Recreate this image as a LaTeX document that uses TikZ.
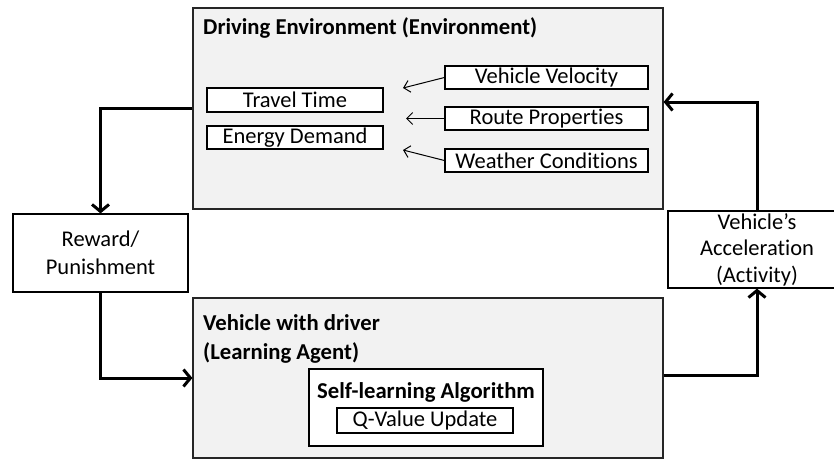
\documentclass[tikz,border=0pt]{standalone}
\usepackage{fontspec}
\setmainfont{Carlito}[Ligatures=NoCommon]
\usetikzlibrary{arrows.meta}
\begin{document}
\begin{tikzpicture}[x=1pt,y=-1pt,
  bigbox/.style={draw=black!85, fill=gray!10, line width=1.2pt, inner sep=0pt},
  smallbox/.style={draw=black, fill=white, line width=1.2pt, inner sep=0pt, font=\fontsize{22.5}{27}\selectfont},
  plainbox/.style={draw=black, fill=white, line width=1.2pt, inner sep=0pt, align=center},
  flow/.style={line width=3pt, -{Straight Barb[length=7pt,width=17pt,line width=3pt]}},
  thinarrow/.style={line width=1pt, -{Straight Barb[length=6pt,width=12pt,line width=1pt]}},
  ttl/.style={font=\bfseries\fontsize{22.7}{29}\selectfont, inner sep=0pt}
]
\useasboundingbox (0,0) rectangle (834,460);

% environment
\node[bigbox, minimum width=470pt, minimum height=201pt] (env) at (428,108.5) {};
\node[ttl, anchor=base west] (envt) at (203,35) {Driving Environment (Environment)};
\node[smallbox, minimum width=176pt, minimum height=24pt] (tt) at (295,100) {Travel Time};
\node[smallbox, minimum width=176pt, minimum height=23pt] (ed) at (295,137.5) {Energy Demand};
\node[smallbox, minimum width=203pt, minimum height=23pt] (vv) at (546.5,77.5) {Vehicle Velocity};
\node[smallbox, minimum width=203pt, minimum height=23pt] (rp) at (546.5,118.5) {Route Properties};
\node[smallbox, minimum width=203pt, minimum height=23pt] (wc) at (546.5,160.5) {Weather Conditions};
\coordinate (e1) at (403,88);
\coordinate (e2) at (406,118.5);
\coordinate (e3) at (403,150);
\draw[thinarrow] (vv.west) -- (e1);
\draw[thinarrow] (rp.west) -- (e2);
\draw[thinarrow] (wc.west) -- (e3);

% reward
\node[plainbox, minimum width=175pt, minimum height=78pt, font=\fontsize{22.5}{28}\selectfont] (rw) at (100.5,253) {Reward/\\Punishment};

% acceleration
\node[plainbox, minimum width=178pt, minimum height=77pt, font=\fontsize{22.5}{26.5}\selectfont] (acc) at (757,249.5) {Vehicle’s\\Acceleration\\(Activity)};

% agent
\node[bigbox, minimum width=470pt, minimum height=160pt] (agent) at (428,378) {};
\node[ttl, anchor=north west, align=left] (agt) at (203,314) {Vehicle with driver\\(Learning Agent)};
\node[plainbox, minimum width=234pt, minimum height=77pt] (sl) at (426,407.5) {};
\node[ttl, anchor=base] (slt) at (426,398) {Self-learning Algorithm};
\node[smallbox, minimum width=176pt, minimum height=25pt] (qv) at (425,420.5) {Q-Value Update};

% flows
\draw[flow] (env.west) -| (rw.north);
\draw[flow] (rw.south) |- (agent.west);
\draw[flow] ([yshift=2.5pt]agent.east) -| (acc.south);
\draw[flow] (acc.north) |- ([yshift=6.5pt]env.east);
\end{tikzpicture}
\end{document}
